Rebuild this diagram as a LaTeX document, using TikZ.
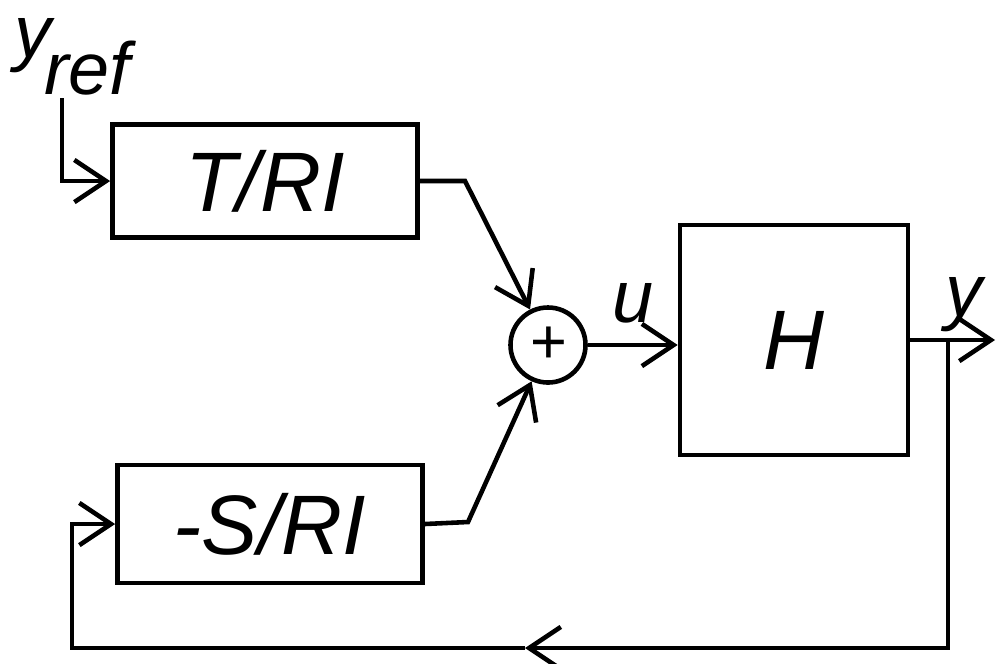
\documentclass[tikz,border=0pt]{standalone}
\usepackage{fontspec}
\setmainfont{Liberation Sans}
\usetikzlibrary{arrows.meta}
\begin{document}
\begin{tikzpicture}[x=0.01cm,y=-0.01cm,
  line width=1.3pt,
  arr/.style={-{Straight Barb[length=9pt,width=12pt,line width=1.3pt]}},
  blk/.style={draw,inner sep=0pt,font=\fontsize{24}{28}\selectfont\itshape},
  lbl/.style={inner sep=0pt,anchor=base west,font=\fontsize{21}{24}\selectfont\itshape}]
\useasboundingbox (0,0) rectangle (998,663);
\node[blk,minimum width=3.05cm,minimum height=1.13cm] (T) at (265,181) {T/RI};
\node[blk,minimum width=3.05cm,minimum height=1.18cm] (S) at (270,524) {-S/RI};
\node[blk,minimum width=2.28cm,minimum height=2.30cm] (H) at (794,340) {H};
\node[draw,circle,minimum size=0.75cm,inner sep=0pt,font=\fontsize{18}{20}\selectfont\itshape] (sum) at (548,345) {+};
\node[lbl] (ly) at (12,57) {y};
\node[lbl] (lref) at (42,94) {ref};
\node[lbl] (lu) at (610,322) {u};
\node[lbl] (lyo) at (943,316) {y};
\coordinate (yin) at (62,98);
\coordinate (t1) at (465,181);
\coordinate (s1) at (468,522);
\coordinate (yout) at (995,340);
\coordinate (br) at (948,340);
\coordinate (mid) at (525,648);
\coordinate (fb2) at (72,648);
\draw[arr] (yin) |- (T.west);
\draw[arr] (T.east) -- (t1) -- (sum);
\draw[arr] (S.east) -- (s1) -- (sum);
\draw[arr] (sum.east) -- (H.west |- sum.east);
\draw[arr] (H.east |- br) -- (yout);
\draw[arr] (br) |- (mid);
\draw[arr] (mid) -- (fb2) |- (S.west);
\end{tikzpicture}
\end{document}
